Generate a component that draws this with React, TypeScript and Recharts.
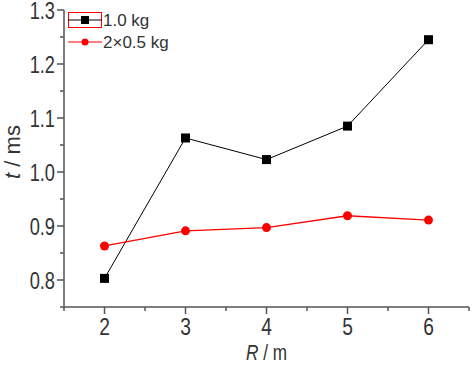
import React from 'react';
import { LineChart, Line, XAxis, YAxis } from 'recharts';

const radii = [2, 3, 4, 5, 6];
const single = [0.803, 1.063, 1.023, 1.085, 1.245];
const double = [0.863, 0.891, 0.897, 0.919, 0.911];
const xTicks = [1.5, 2, 2.5, 3, 3.5, 4, 4.5, 5, 5.5, 6, 6.5];
const yTicks = [0.75, 0.8, 0.85, 0.9, 0.95, 1.0, 1.05, 1.1, 1.15, 1.2, 1.25, 1.3];
const xMajor = ['2', '3', '4', '5', '6'];
const yMajor = ['0.8', '0.9', '1.0', '1.1', '1.2', '1.3'];

const data = radii.map((r, i) => ({ R: r, a: single[i], b: double[i] }));

const AXIS = '#555';
const TXT = '#333';
const FONT = '"Liberation Sans", Arial, sans-serif';

const XTick = (props: any) => {
  const { x, y, payload } = props;
  const v = payload.value;
  const isMajor = Number.isInteger(v) && xMajor.includes(String(v));
  return (
    <g>
      <line x1={x} y1={y} x2={x} y2={y + (isMajor ? 7 : 4)} stroke={AXIS} strokeWidth={1.5} />
      {isMajor && (
        <text transform={`translate(${x},${y + 28}) scale(0.8,1)`} textAnchor="middle" fill={TXT} fontSize={24} fontFamily={FONT}>
          {String(v)}
        </text>
      )}
    </g>
  );
};

const YTick = (props: any) => {
  const { x, y, payload } = props;
  const v = payload.value;
  const lbl = v.toFixed(1);
  const isMajor = Math.abs(v * 10 - Math.round(v * 10)) < 1e-6 && yMajor.includes(lbl);
  return (
    <g>
      <line x1={x} y1={y} x2={x - (isMajor ? 7 : 4)} y2={y} stroke={AXIS} strokeWidth={1.5} />
      {isMajor && (
        <text transform={`translate(${x - 9},${y + 8.5}) scale(0.76,1)`} textAnchor="end" fill={TXT} fontSize={24} fontFamily={FONT}>
          {lbl}
        </text>
      )}
    </g>
  );
};

const Square = (props: any) => {
  const { cx, cy } = props;
  return <rect x={cx - 4.5} y={cy - 4.5} width={9} height={9} fill="#000" />;
};

const Dot = (props: any) => {
  const { cx, cy } = props;
  return <circle cx={cx} cy={cy} r={4.5} fill="#ff0000" />;
};

const LegendBox = () => (
  <svg width={120} height={44} style={{ display: 'block' }}>
    <rect x={0.5} y={1.5} width={33} height={15} fill="none" stroke="#ff0000" strokeWidth={1} />
    <line x1={0} y1={9} x2={34} y2={9} stroke="#000" strokeWidth={1} />
    <rect x={13} y={5} width={8} height={8} fill="#000" />
    <text x={35} y={15} fontSize={17} fill={TXT} fontFamily={FONT}>1.0 kg</text>
    <line x1={0} y1={31} x2={34} y2={31} stroke="#ff0000" strokeWidth={1.2} />
    <circle cx={17} cy={31} r={3.5} fill="#ff0000" />
    <text x={35} y={37} fontSize={17} fill={TXT} fontFamily={FONT}>2×0.5 kg</text>
  </svg>
);

export default function App() {
  return (
    <div style={{ position: 'absolute', left: 0, top: 0, width: 474, height: 365, background: '#fff' }}>
      <LineChart width={474} height={365} data={data} margin={{ top: 10, right: 5, bottom: 0, left: 0 }}>
        <XAxis
          xAxisId="bottom"
          type="number"
          dataKey="R"
          domain={[1.5, 6.5]}
          ticks={xTicks}
          interval={0}
          height={58}
          stroke={AXIS}
          strokeWidth={1.5}
          tickLine={false}
          tickSize={0}
          tickMargin={0}
          tick={<XTick />}
          label={{ value: 'R / m', position: 'insideBottom', offset: 0, content: (p: any) => {
            const vb = p.viewBox;
            return (
              <text transform={`translate(${vb.x + vb.width / 2},${vb.y + 53}) scale(0.78,1)`} textAnchor="middle" fill={TXT} fontSize={22} fontFamily={FONT}>
                <tspan fontStyle="italic">R</tspan><tspan> / m</tspan>
              </text>
            );
          } }}
        />
        <XAxis xAxisId="top" orientation="top" type="number" dataKey="R" domain={[1.5, 6.5]} height={0} tick={false} tickLine={false} stroke={AXIS} strokeWidth={1.5} />
        <YAxis
          yAxisId="left"
          type="number"
          domain={[0.75, 1.3]}
          ticks={yTicks}
          interval={0}
          width={64}
          stroke={AXIS}
          strokeWidth={1.5}
          tickLine={false}
          tickSize={0}
          tickMargin={0}
          tick={<YTick />}
          label={{ value: 't / ms', content: () => {
            const cx = 12;
            const cy = 152;
            return (
              <text transform={`translate(${cx},${cy}) rotate(-90)`} textAnchor="middle" dominantBaseline="central" fill={TXT} fontSize={22} fontFamily={FONT}>
                <tspan fontStyle="italic">t</tspan><tspan> / ms</tspan>
              </text>
            );
          } }}
        />
        <YAxis yAxisId="right" orientation="right" type="number" domain={[0.75, 1.3]} width={0} tick={false} tickLine={false} stroke={AXIS} strokeWidth={1.5} />
        <Line xAxisId="bottom" yAxisId="left" dataKey="a" stroke="#000" strokeWidth={1} dot={<Square />} isAnimationActive={false} />
        <Line xAxisId="bottom" yAxisId="left" dataKey="b" stroke="#ff0000" strokeWidth={1.3} dot={<Dot />} isAnimationActive={false} />
      </LineChart>
      <div style={{ position: 'absolute', left: 68, top: 11 }}>
        <LegendBox />
      </div>
    </div>
  );
}
